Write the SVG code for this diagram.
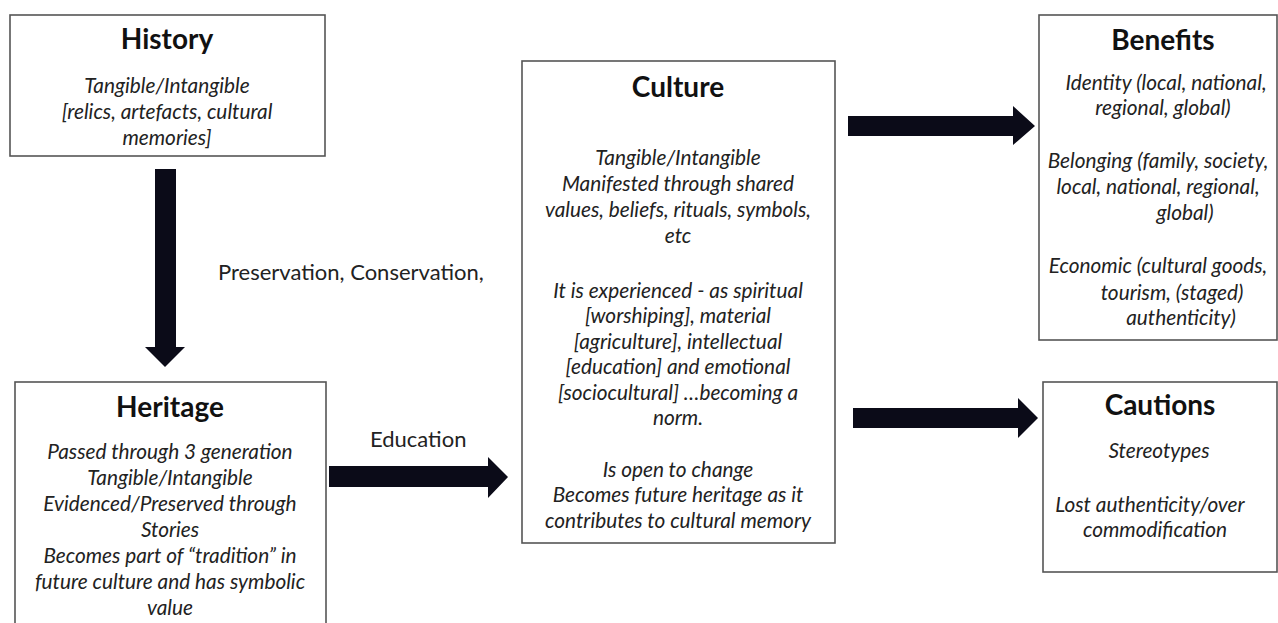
<svg xmlns="http://www.w3.org/2000/svg" width="1278" height="623" viewBox="0 0 1278 623">
<style>
.box{fill:#fff;stroke:#555;stroke-width:1.6}
.title{font-family:Lato,"Open Sans","Liberation Sans",sans-serif;font-weight:bold;font-size:28px;fill:#111;text-anchor:middle}
.body{font-family:Lato,"Open Sans","Liberation Sans",sans-serif;font-style:italic;font-size:20.8px;fill:#222;text-anchor:middle}
.lbl{font-family:Lato,"Open Sans","Liberation Sans",sans-serif;font-size:22px;fill:#222}
.arrow{fill:#0b0b18}
</style>
<rect width="1278" height="623" fill="#fff"/>
<g id="connectors">
<polygon class="arrow" points="155,169 176,169 176,347 185,347 165,367 145,347 155,347"/>
<polygon class="arrow" points="329,466 488,466 488,457 508,477 488,498 488,487 329,487"/>
<polygon class="arrow" points="848,116 1013,116 1013,106 1035,126 1013,145 1013,136 848,136"/>
<polygon class="arrow" points="853,408 1018,408 1018,398 1038,418 1018,438 1018,428 853,428"/>
<text class="lbl" x="218" y="280">Preservation, Conservation,</text>
<text class="lbl" x="370" y="447">Education</text>
</g>
<g id="history">
<rect class="box" x="10" y="15" width="315" height="141"/>
<text class="title" x="167" y="49">History</text>
<text class="body" x="167" y="93">Tangible/Intangible</text>
<text class="body" x="167" y="119">[relics, artefacts, cultural</text>
<text class="body" x="167" y="145">memories]</text>
</g>
<g id="heritage">
<rect class="box" x="15" y="382" width="311" height="260"/>
<text class="title" x="170" y="417">Heritage</text>
<text class="body" x="170" y="459">Passed through 3 generation</text>
<text class="body" x="170" y="485">Tangible/Intangible</text>
<text class="body" x="170" y="511">Evidenced/Preserved through</text>
<text class="body" x="170" y="537">Stories</text>
<text class="body" x="170" y="563">Becomes part of “tradition” in</text>
<text class="body" x="170" y="589">future culture and has symbolic</text>
<text class="body" x="170" y="615">value</text>
</g>
<g id="culture">
<rect class="box" x="522" y="61" width="313" height="482"/>
<text class="title" x="678" y="97">Culture</text>
<text class="body" x="678" y="165">Tangible/Intangible</text>
<text class="body" x="678" y="191">Manifested through shared</text>
<text class="body" x="678" y="217">values, beliefs, rituals, symbols,</text>
<text class="body" x="678" y="243">etc</text>
<text class="body" x="678" y="298">It is experienced  - as spiritual</text>
<text class="body" x="678" y="323">[worshiping], material</text>
<text class="body" x="678" y="349">[agriculture], intellectual</text>
<text class="body" x="678" y="374">[education] and emotional</text>
<text class="body" x="678" y="400">[sociocultural] …becoming a</text>
<text class="body" x="678" y="425">norm.</text>
<text class="body" x="678" y="477">Is open to change</text>
<text class="body" x="678" y="502">Becomes future heritage as it</text>
<text class="body" x="678" y="528">contributes to cultural memory</text>
</g>
<g id="benefits">
<rect class="box" x="1039" y="15" width="238" height="325"/>
<text class="title" x="1163" y="50">Benefits</text>
<text class="body" x="1166" y="90">Identity (local, national,</text>
<text class="body" x="1163" y="115">regional, global)</text>
<text class="body" x="1158" y="168">Belonging (family, society,</text>
<text class="body" x="1158" y="194">local, national, regional,</text>
<text class="body" x="1185" y="220">global)</text>
<text class="body" x="1158" y="273">Economic (cultural goods,</text>
<text class="body" x="1172" y="300">tourism, (staged)</text>
<text class="body" x="1181" y="325">authenticity)</text>
</g>
<g id="cautions">
<rect class="box" x="1043" y="382" width="234" height="190"/>
<text class="title" x="1160" y="415">Cautions</text>
<text class="body" x="1159" y="458">Stereotypes</text>
<text class="body" x="1150" y="512">Lost authenticity/over</text>
<text class="body" x="1155" y="537">commodification</text>
</g>
</svg>
